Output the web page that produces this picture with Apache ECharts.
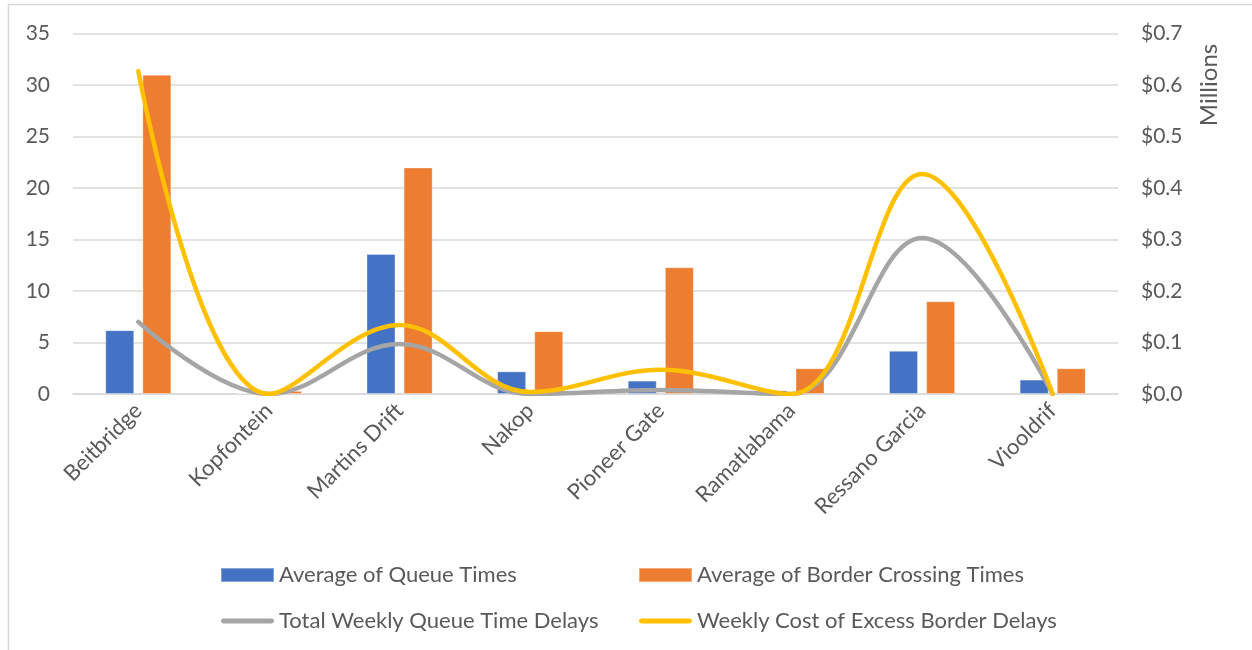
<!DOCTYPE html>
<html>
<head>
<meta charset="utf-8">
<script src="https://cdn.jsdelivr.net/npm/echarts@6/dist/echarts.min.js"></script>
<style>
  html, body { margin: 0; padding: 0; background: #ffffff; }
  #chart { width: 1252px; height: 650px; }
</style>
</head>
<body>
<div id="chart"></div>
<script>
// Border crossing points
const categories = ['Beitbridge', 'Kopfontein', 'Martins Drift', 'Nakop', 'Pioneer Gate', 'Ramatlabama', 'Ressano Garcia', 'Viooldrif'];

// Hours (left axis)
const avgQueueTimes = [6.2, 0.1, 13.6, 2.2, 1.3, 0.35, 4.2, 1.4];
const avgBorderCrossingTimes = [31, 0.3, 22, 6.1, 12.3, 2.5, 9.0, 2.5];

// Millions of dollars (right axis)
const totalWeeklyQueueDelays = [0.14, 0.0, 0.097, 0.0, 0.008, 0.0, 0.303, 0.0];
const weeklyCostExcessDelays = [0.627, 0.0, 0.134, 0.004, 0.047, 0.0, 0.427, 0.0];

// Axis ticks
const leftTicks = { min: 0, max: 35, interval: 5 };
const rightTicks = { min: 0, max: 0.7, interval: 0.1 };

const FONT = 'Lato';
const TEXT = '#595959';
const GRID = '#d9d9d9';
const COLORS = { queue: '#4472C4', crossing: '#ED7D31', delays: '#A5A5A5', cost: '#FFC000' };

// Capsule-shaped legend marker for the line series
const LINE_ICON = 'path://M2.5,0H51.5A2.5,2.5,0,0,1,51.5,5H2.5A2.5,2.5,0,0,1,2.5,0Z';

const chart = echarts.init(document.getElementById('chart'), null, { renderer: 'canvas' });

const barSeries = (name, data, color) => ({
  name, type: 'bar', data, yAxisIndex: 0,
  barWidth: 29, barGap: '28%',
  itemStyle: { color, borderColor: 'rgba(255,255,255,0.35)', borderWidth: 1 },
  emphasis: { disabled: true }
});

const lineSeries = (name, data, color) => ({
  name, type: 'line', data, yAxisIndex: 1,
  smooth: 0.38, symbol: 'none', clip: true, z: 5,
  lineStyle: { color, width: 4.5, cap: 'round', join: 'round' },
  itemStyle: { color },
  emphasis: { disabled: true }
});

const legendBase = {
  orient: 'vertical',
  top: 564,
  padding: 0,
  itemWidth: 53,
  itemHeight: 14,
  itemGap: 24,
  symbolKeepAspect: true,
  textStyle: { color: TEXT, fontFamily: FONT, fontSize: 22 },
  selectedMode: false
};

chart.setOption({
  animation: false,
  backgroundColor: '#ffffff',
  textStyle: { fontFamily: FONT },
  grid: { left: 73, right: 134, top: 33.5, bottom: 256, containLabel: false },
  xAxis: {
    type: 'category',
    data: categories,
    axisLine: { show: true, lineStyle: { color: GRID, width: 1.5 } },
    axisTick: { show: false },
    axisLabel: { rotate: 45, margin: 13, color: TEXT, fontFamily: FONT, fontSize: 22, interval: 0 }
  },
  yAxis: [
    {
      type: 'value', position: 'left', ...leftTicks,
      axisLine: { show: false }, axisTick: { show: false },
      axisLabel: { color: TEXT, fontFamily: FONT, fontSize: 21, margin: 23 },
      splitLine: { lineStyle: { color: GRID, width: 1.5 } }
    },
    {
      type: 'value', position: 'right', ...rightTicks,
      axisLine: { show: false }, axisTick: { show: false },
      axisLabel: {
        color: TEXT, fontFamily: FONT, fontSize: 21, margin: 23,
        formatter: v => '$' + v.toFixed(1)
      },
      splitLine: { show: false }
    }
  ],
  legend: [
    Object.assign({}, legendBase, {
      left: 220,
      data: [
        { name: 'Average of Queue Times', icon: 'rect' },
        { name: 'Total Weekly Queue Time Delays', icon: LINE_ICON, itemStyle: { color: COLORS.delays, borderWidth: 0 } }
      ]
    }),
    Object.assign({}, legendBase, {
      left: 638,
      data: [
        { name: 'Average of Border Crossing Times', icon: 'rect' },
        { name: 'Weekly Cost of Excess Border Delays', icon: LINE_ICON, itemStyle: { color: COLORS.cost, borderWidth: 0 } }
      ]
    })
  ],
  graphic: [
    {
      type: 'rect', silent: true, z: -1,
      shape: { x: 8.5, y: 4.5, width: 1300, height: 700 },
      style: { fill: null, stroke: GRID, lineWidth: 1.5 }
    },
    {
      type: 'text', silent: true,
      x: 1209, y: 85, rotation: Math.PI / 2,
      style: {
        text: 'Millions', fill: TEXT, font: '24px Lato',
        align: 'center', verticalAlign: 'middle'
      }
    }
  ],
  series: [
    barSeries('Average of Queue Times', avgQueueTimes, COLORS.queue),
    barSeries('Average of Border Crossing Times', avgBorderCrossingTimes, COLORS.crossing),
    lineSeries('Total Weekly Queue Time Delays', totalWeeklyQueueDelays, COLORS.delays),
    lineSeries('Weekly Cost of Excess Border Delays', weeklyCostExcessDelays, COLORS.cost)
  ]
});
</script>
</body>
</html>
